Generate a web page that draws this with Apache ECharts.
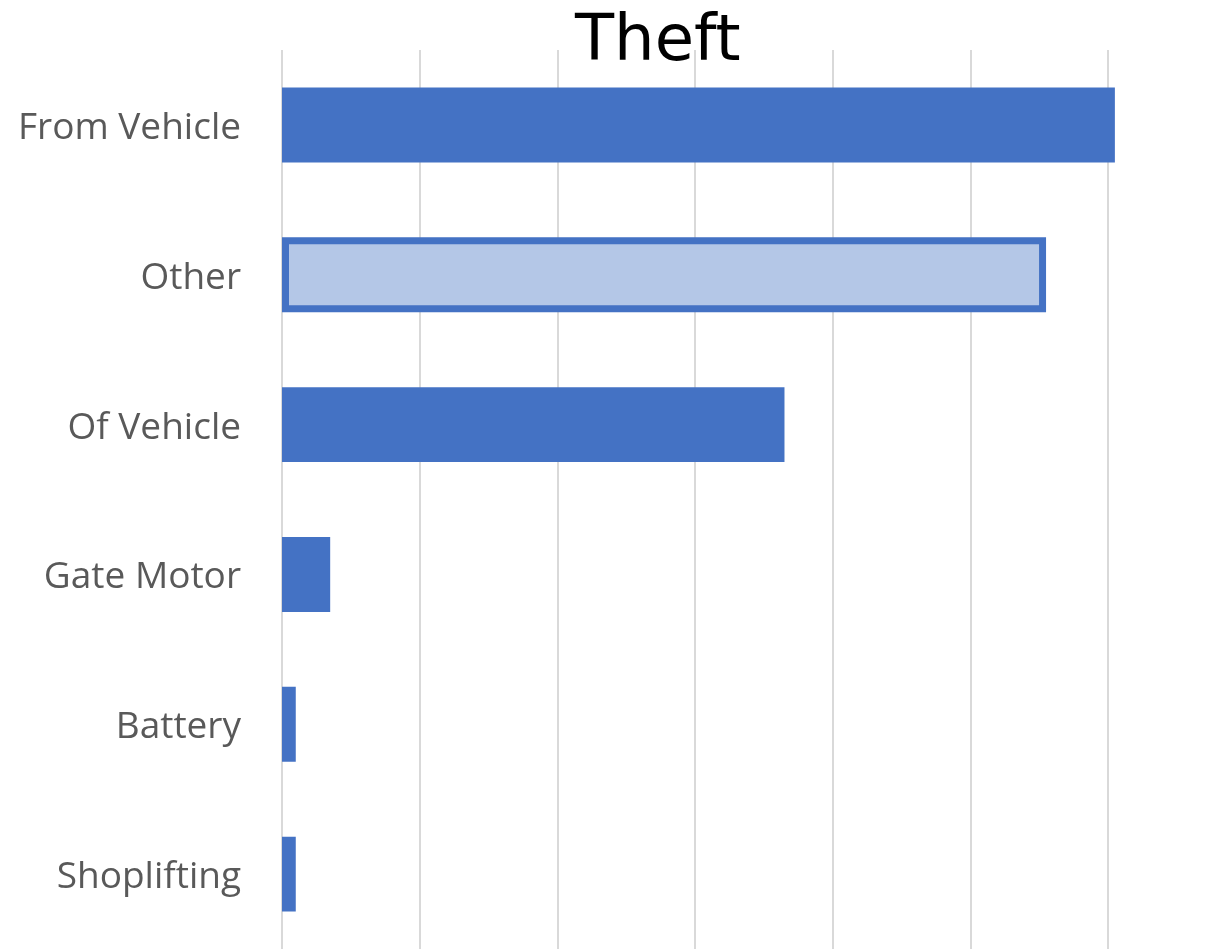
<!DOCTYPE html>
<html>
<head>
<meta charset="utf-8">
<script src="https://cdn.jsdelivr.net/npm/echarts@6/dist/echarts.min.js"></script>
<style>html,body{margin:0;padding:0;background:#fff;}#chart{width:1232px;height:949px;}</style>
</head>
<body>
<div id="chart"></div>
<script>
const categories = ['From Vehicle', 'Other', 'Of Vehicle', 'Gate Motor', 'Battery', 'Shoplifting'];
const values = [121, 111, 73, 7, 2, 2];
const highlighted = 'Other';

const chart = echarts.init(document.getElementById('chart'));
const data = categories.map((c, i) => {
  if (c === highlighted) {
    return { value: values[i], itemStyle: { color: '#B4C7E7', borderColor: '#4472C4', borderWidth: 7 } };
  }
  return values[i];
});
chart.setOption({
  animation: false,
  title: {
    text: 'Theft',
    left: 570,
    top: 6,
    textStyle: { fontFamily: 'DejaVu Sans', fontSize: 64, fontWeight: 'normal', color: '#000' }
  },
  grid: { left: 282, right: 124, top: 50, bottom: 0, containLabel: false },
  xAxis: {
    type: 'value', min: 0, max: 120, interval: 20,
    axisLabel: { show: false }, axisLine: { show: false }, axisTick: { show: false },
    splitLine: { lineStyle: { color: '#D9D9D9', width: 2 } }
  },
  yAxis: {
    type: 'category', data: categories, inverse: true,
    axisLine: { show: false }, axisTick: { show: false },
    axisLabel: {
      margin: 41,
      formatter: v => '{a|' + v + '}',
      rich: { a: { fontFamily: 'Open Sans', fontSize: 37, color: '#595959', padding: [7, 0, 0, 0] } }
    }
  },
  series: [{
    type: 'bar', data: data, barCategoryGap: '50%', clip: false,
    itemStyle: { color: '#4472C4' }
  }]
});
</script>
</body>
</html>
